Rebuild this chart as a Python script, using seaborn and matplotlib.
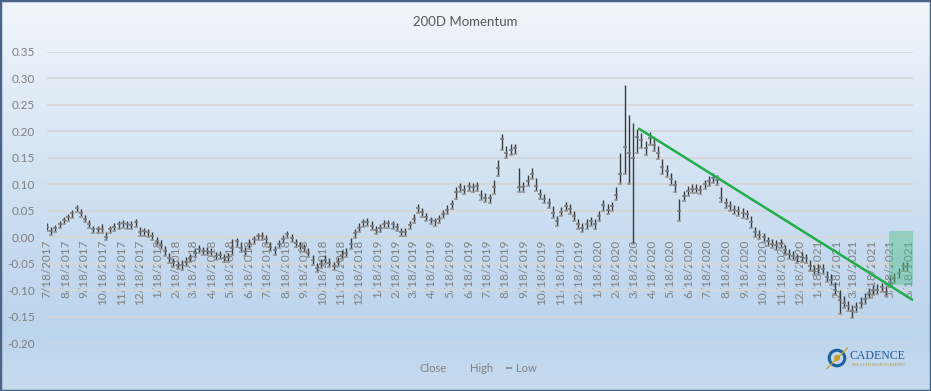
import numpy as np
import pandas as pd
import matplotlib
matplotlib.use("Agg")
import matplotlib.pyplot as plt
import matplotlib.dates as mdates
from matplotlib.patches import Rectangle, Circle
from matplotlib.lines import Line2D
import seaborn as sns

# weekly 200D momentum readings, starting 7/18/2017
close = [
    0.020, 0.012, 0.017, 0.025, 0.032, 0.038, 0.045, 0.055, 0.045, 0.035,
    0.025, 0.015, 0.016, 0.015, 0.000, 0.016, 0.020, 0.024, 0.026, 0.024,
    0.023, 0.028, 0.010, 0.011, 0.009, 0.002, -0.007, -0.014, -0.026, -0.040,
    -0.048, -0.053, -0.053, -0.046, -0.039, -0.029, -0.022, -0.026, -0.026, -0.028,
    -0.036, -0.034, -0.039, -0.038, -0.020, -0.008, -0.020, -0.027, -0.013, -0.004,
    0.002, 0.003, -0.004, -0.019, -0.025, -0.013, -0.003, 0.006, -0.002, -0.011,
    -0.016, -0.020, -0.029, -0.043, -0.058, -0.051, -0.043, -0.048, -0.054, -0.046,
    -0.034, -0.029, -0.012, 0.007, 0.018, 0.028, 0.029, 0.022, 0.014, 0.018,
    0.025, 0.026, 0.024, 0.020, 0.010, 0.010, 0.023, 0.035, 0.056, 0.047,
    0.038, 0.032, 0.030, 0.035, 0.044, 0.052, 0.062, 0.085, 0.095, 0.090,
    0.097, 0.094, 0.097, 0.080, 0.075, 0.074, 0.095, 0.130, 0.185, 0.160,
    0.165, 0.168, 0.095, 0.095, 0.106, 0.120, 0.097, 0.082, 0.073, 0.065,
    0.045, 0.030, 0.048, 0.058, 0.053, 0.040, 0.025, 0.018, 0.025, 0.030,
    0.024, 0.040, 0.060, 0.052, 0.058, 0.080, 0.120, 0.170, 0.160, 0.150,
    0.190, 0.183, 0.168, 0.188, 0.175, 0.160, 0.132, 0.125, 0.110, 0.098,
    0.050, 0.078, 0.087, 0.092, 0.092, 0.090, 0.100, 0.106, 0.112, 0.108,
    0.075, 0.065, 0.058, 0.052, 0.049, 0.046, 0.043, 0.028, 0.010, 0.005,
    0.000, -0.007, -0.012, -0.015, -0.012, -0.025, -0.032, -0.035, -0.040, -0.037,
    -0.040, -0.054, -0.063, -0.060, -0.060, -0.076, -0.080, -0.100, -0.119, -0.124,
    -0.131, -0.140, -0.132, -0.124, -0.117, -0.106, -0.100, -0.099, -0.095, -0.103,
    -0.085, -0.078, -0.068, -0.055, -0.055,
]
high = [
    0.026, 0.020, 0.023, 0.031, 0.038, 0.044, 0.051, 0.060, 0.053, 0.041,
    0.032, 0.022, 0.022, 0.024, 0.009, 0.022, 0.027, 0.030, 0.032, 0.031,
    0.030, 0.034, 0.020, 0.017, 0.016, 0.010, 0.001, -0.006, -0.017, -0.030,
    -0.040, -0.045, -0.044, -0.038, -0.031, -0.021, -0.015, -0.018, -0.019, -0.020,
    -0.028, -0.026, -0.031, -0.030, -0.004, -0.001, -0.010, -0.019, -0.004, 0.003,
    0.008, 0.009, 0.004, -0.010, -0.016, -0.005, 0.004, 0.012, 0.006, -0.003,
    -0.009, -0.012, -0.020, -0.033, -0.048, -0.042, -0.034, -0.040, -0.046, -0.037,
    -0.025, -0.020, -0.001, 0.015, 0.026, 0.035, 0.036, 0.030, 0.022, 0.025,
    0.032, 0.033, 0.031, 0.027, 0.018, 0.018, 0.030, 0.044, 0.062, 0.055,
    0.045, 0.039, 0.037, 0.042, 0.051, 0.060, 0.071, 0.094, 0.103, 0.099,
    0.104, 0.102, 0.104, 0.090, 0.083, 0.082, 0.108, 0.145, 0.195, 0.172,
    0.176, 0.176, 0.130, 0.105, 0.117, 0.130, 0.112, 0.092, 0.082, 0.074,
    0.058, 0.040, 0.057, 0.067, 0.062, 0.050, 0.034, 0.027, 0.034, 0.039,
    0.034, 0.050, 0.070, 0.062, 0.067, 0.095, 0.160, 0.287, 0.230, 0.215,
    0.205, 0.197, 0.182, 0.198, 0.188, 0.172, 0.148, 0.136, 0.122, 0.108,
    0.072, 0.088, 0.096, 0.101, 0.100, 0.099, 0.109, 0.115, 0.121, 0.118,
    0.095, 0.075, 0.068, 0.061, 0.058, 0.055, 0.052, 0.040, 0.020, 0.014,
    0.008, 0.001, -0.004, -0.006, -0.004, -0.015, -0.023, -0.026, -0.031, -0.028,
    -0.031, -0.044, -0.053, -0.051, -0.050, -0.064, -0.070, -0.085, -0.100, -0.112,
    -0.120, -0.128, -0.122, -0.114, -0.106, -0.096, -0.090, -0.089, -0.086, -0.092,
    -0.074, -0.068, -0.058, -0.046, -0.046,
]
low = [
    0.012, 0.004, 0.009, 0.018, 0.025, 0.031, 0.037, 0.047, 0.038, 0.028,
    0.017, 0.007, 0.008, 0.007, -0.006, 0.008, 0.012, 0.016, 0.018, 0.016,
    0.015, 0.019, 0.003, 0.003, 0.001, -0.006, -0.015, -0.022, -0.035, -0.049,
    -0.056, -0.061, -0.062, -0.055, -0.047, -0.037, -0.030, -0.034, -0.034, -0.036,
    -0.044, -0.042, -0.047, -0.046, -0.034, -0.018, -0.028, -0.035, -0.022, -0.012,
    -0.006, -0.005, -0.012, -0.027, -0.033, -0.021, -0.011, -0.002, -0.010, -0.019,
    -0.024, -0.028, -0.037, -0.052, -0.066, -0.059, -0.051, -0.056, -0.062, -0.054,
    -0.042, -0.037, -0.022, -0.002, 0.010, 0.020, 0.021, 0.014, 0.006, 0.010,
    0.017, 0.018, 0.016, 0.012, 0.002, 0.002, 0.015, 0.027, 0.046, 0.039,
    0.030, 0.024, 0.022, 0.027, 0.036, 0.044, 0.054, 0.072, 0.086, 0.081,
    0.088, 0.085, 0.088, 0.071, 0.067, 0.065, 0.082, 0.115, 0.165, 0.150,
    0.155, 0.158, 0.085, 0.086, 0.097, 0.110, 0.088, 0.073, 0.064, 0.056,
    0.036, 0.022, 0.040, 0.049, 0.044, 0.031, 0.016, 0.010, 0.016, 0.021,
    0.016, 0.030, 0.050, 0.044, 0.049, 0.070, 0.100, 0.120, 0.100, -0.012,
    0.160, 0.168, 0.155, 0.175, 0.162, 0.148, 0.120, 0.114, 0.098, 0.086,
    0.030, 0.068, 0.078, 0.083, 0.083, 0.081, 0.091, 0.097, 0.103, 0.099,
    0.066, 0.056, 0.049, 0.043, 0.040, 0.037, 0.034, 0.018, 0.001, -0.004,
    -0.009, -0.016, -0.021, -0.024, -0.021, -0.034, -0.041, -0.044, -0.049, -0.046,
    -0.049, -0.063, -0.072, -0.069, -0.070, -0.085, -0.090, -0.110, -0.146, -0.134,
    -0.140, -0.152, -0.142, -0.133, -0.126, -0.115, -0.109, -0.108, -0.104, -0.112,
    -0.094, -0.087, -0.077, -0.064, -0.064,
]

# hand-drawn trend line and highlight box
trend_dates = ["2020-03-27", "2021-06-25"]
trend_values = [0.205, -0.119]
box_dates = ["2021-05-16", "2021-07-02"]
box_values = [-0.091, 0.011]

y_ticks = [-0.20, -0.15, -0.10, -0.05, 0.00, 0.05, 0.10, 0.15, 0.20, 0.25, 0.30, 0.35]
y_labels = ["-0.20", "-0.15", "-0.10", "-0.05", "0.00", "0.05", "0.10", "0.15", "0.20", "0.25", "0.30", "0.35"]

week_dates = pd.date_range("2017-07-18", periods=len(close), freq="7D")
df = pd.DataFrame({"Date": week_dates, "Close": close, "High": high, "Low": low})

tick_dates = pd.date_range("2017-07-18", "2021-06-18", freq=pd.DateOffset(months=1))
tick_labels = [f"{d.month}/{d.day}/{d.year}" for d in tick_dates]

sns.set_theme(style="white")
plt.rcParams["font.family"] = ["Lato", "DejaVu Sans"]

W, H = 931, 391
fig = plt.figure(figsize=(W / 100, H / 100), dpi=100)

# gradient background like the Excel chart area
bg = fig.add_axes([0, 0, 1, 1], zorder=-10)
stops = [0.0, 0.3, 0.65, 0.85, 1.0]
cols = np.array([matplotlib.colors.to_rgb(c) for c in
                 ["#f1f5fb", "#dde9f5", "#c6daef", "#bcd4ec", "#c8dcef"]])
t = np.linspace(0, 1, 256)
grad = np.stack([np.interp(t, stops, cols[:, i]) for i in range(3)], axis=1)[:, None, :]
bg.imshow(grad, aspect="auto", extent=[0, 1, 0, 1])
bg.axis("off")

ax = fig.add_axes([47 / W, 1 - 343 / H, (913 - 47) / W, (343 - 52) / H])
ax.set_facecolor("none")
ax.set_axisbelow(True)
# category labels sit on the zero line, as in Excel
for s in ax.spines.values():
    s.set_visible(False)
ax.spines["bottom"].set_position(("data", 0))

# high-low bars plus close / low ticks
ax.vlines(df["Date"], df["Low"], df["High"], color="#3a3a3a", lw=1.0, zorder=3)
sns.scatterplot(data=df, x="Date", y="Low", marker="_", s=10, color="#9a9a9a",
                linewidth=1.2, ax=ax, legend=False, zorder=4)
sns.scatterplot(data=df, x="Date", y="Close", marker="_", s=10, color="#7d7d7d",
                linewidth=1.2, ax=ax, legend=False, zorder=4)

sns.lineplot(x=pd.to_datetime(trend_dates), y=trend_values, color="#1fae4a", lw=1.8,
             ax=ax, zorder=5)

bx0, bx1 = mdates.date2num(pd.to_datetime(box_dates))
ax.add_patch(Rectangle((bx0, box_values[0]), bx1 - bx0, box_values[1] - box_values[0],
                       facecolor="#4fc08d", alpha=0.45, edgecolor="none", zorder=6))

ax.set_xlim(pd.Timestamp("2017-07-18"), pd.Timestamp("2021-06-25"))
ax.set_ylim(-0.20, 0.35)
ax.set_yticks(y_ticks)
ax.set_yticklabels(y_labels)
ax.set_xticks(tick_dates)
ax.set_xticklabels(tick_labels)
ax.set_xlabel("")
ax.set_ylabel("")

ax.yaxis.grid(True, color="#d4d7da", lw=1.3)
ax.xaxis.grid(False)
ax.tick_params(axis="y", length=0, pad=8.5, labelsize=8.5, labelcolor="#7f7f7f")
ax.tick_params(axis="x", length=0, pad=2, labelsize=8.5, labelcolor="#7f7f7f",
               labelrotation=90)
for lab in ax.get_xticklabels():
    lab.set_va("top")
    lab.set_ha("center")

fig.text(0.4995, 1 - 22 / H, "200D Momentum", ha="center", va="center",
         fontsize=9.5, color="#595959")

handles = [Line2D([], [], color="none"), Line2D([], [], color="none"),
           Line2D([], [], color="#8a8a8a", marker="_", ls="none", ms=4, mew=1.3)]
fig.legend(handles, ["Close", "High", "Low"], loc="center",
           bbox_to_anchor=(0.508, 1 - 368 / H), ncol=3, frameon=False,
           handlelength=0.6, handletextpad=0.3, columnspacing=1.2,
           fontsize=8, labelcolor="#7f7f7f")

# Cadence logo
lg = fig.add_axes([826 / W, 1 - 369 / H, 22 / W, 22 / H])
lg.set_xlim(-1.2, 1.2)
lg.set_ylim(-1.2, 1.2)
lg.set_aspect("equal")
lg.axis("off")
lg.add_patch(Circle((0, 0), 0.85, fill=False, edgecolor="#1f5fa0", lw=2.2))
lg.plot([-1.1, 1.15], [-1.15, 1.1], color="#c9a227", lw=1.0)
lg.add_patch(Circle((0, 0), 0.25, color="#c9a227"))
fig.text(850 / W, 1 - 356 / H, "CADENCE", ha="left", va="center",
         fontsize=8.5, color="#1f5a9a", family=["Liberation Serif", "DejaVu Serif"])
fig.text(852 / W, 1 - 364.5 / H, "WEALTH MANAGEMENT", ha="left", va="center",
         fontsize=3.3, color="#b8962e", family=["Liberation Serif", "DejaVu Serif"])

fig.patches.append(Rectangle((0, 0), 1, 1, transform=fig.transFigure, fill=False,
                             edgecolor="#4a6487", lw=2.5))

fig.savefig("out.png", dpi=100)
